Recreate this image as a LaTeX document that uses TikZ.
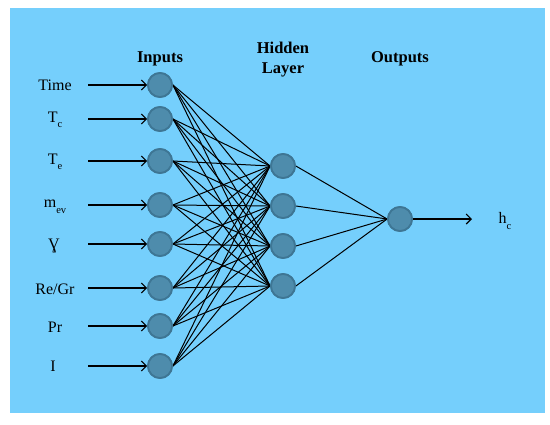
\documentclass[tikz,border=0pt]{standalone}
\usepackage{fontspec}
\setmainfont{Liberation Serif}
\usetikzlibrary{arrows.meta}
\definecolor{bgblue}{RGB}{117,207,252}
\definecolor{nodefill}{RGB}{78,140,172}
\definecolor{nodeedge}{RGB}{62,118,148}
\newcommand\lowsub[1]{\raisebox{-0.35em}{\fontsize{10.5}{10.5}\selectfont #1}}
\tikzset{
  neuron/.style={circle,fill=nodefill,draw=nodeedge,line width=1.8pt,minimum size=24pt,inner sep=0pt},
  lbl/.style={font=\fontsize{16}{18}\selectfont,inner sep=0pt,anchor=center},
  hdr/.style={font=\fontsize{16.5}{20}\selectfont\bfseries,align=center,inner sep=0pt},
  conn/.style={line width=1pt,black},
  inarrow/.style={line width=1.1pt,black,-{Straight Barb[length=5pt,width=10pt,line width=1.1pt]}}
}
\begin{document}
\begin{tikzpicture}[x=1pt,y=-1pt]
\useasboundingbox (0,0) rectangle (550,424);
\fill[white] (0,0) rectangle (550,424);
\fill[bgblue] (10,8) rectangle (545,413);
% headers
\node[hdr] (hin) at (160,59) {Inputs};
\node[hdr] (hhid) at (283,60) {Hidden\\Layer};
\node[hdr] (hout) at (400,59) {Outputs};
% input nodes
\foreach \n/\y in {1/85,2/119,3/161,4/205,5/244,6/288,7/326,8/366}{
  \node[neuron] (i\n) at (160,\y) {};
  \coordinate (s\n) at (88,\y);
}
% hidden nodes
\foreach \n/\y in {1/166,2/206,3/246,4/286}{
  \node[neuron] (h\n) at (283,\y) {};
}
\node[neuron] (o) at (400,219) {};
\coordinate (oend) at (472,219);
% labels
\node[lbl] (l1) at (55,85) {Time};
\node[lbl] (l2) at (55,120) {T\lowsub{c}};
\node[lbl] (l3) at (55,162) {T\lowsub{e}};
\node[lbl] (l4) at (55,207) {m\lowsub{ev}};
\node[lbl] (l5) at (54,246) {Ɣ};
\node[lbl] (l6) at (55,289) {Re/Gr};
\node[lbl] (l7) at (55,327) {Pr};
\node[lbl] (l8) at (53,366) {I};
\node[lbl] (lo) at (505,221) {h\lowsub{c}};
% connections
\foreach \i in {1,...,8}{
  \draw[inarrow] (s\i) -- (i\i.west);
  \foreach \h in {1,...,4}{
    \draw[conn] (i\i.east) -- (h\h.west);
  }
}
\foreach \h in {1,...,4}{
  \draw[conn] (h\h.east) -- (o.west);
}
\draw[inarrow] (o.east) -- (oend);
% redraw nodes on top
\foreach \n/\y in {1/85,2/119,3/161,4/205,5/244,6/288,7/326,8/366}{
  \node[neuron] at (160,\y) {};
}
\foreach \n/\y in {1/166,2/206,3/246,4/286}{
  \node[neuron] at (283,\y) {};
}
\node[neuron] at (400,219) {};
\end{tikzpicture}
\end{document}
